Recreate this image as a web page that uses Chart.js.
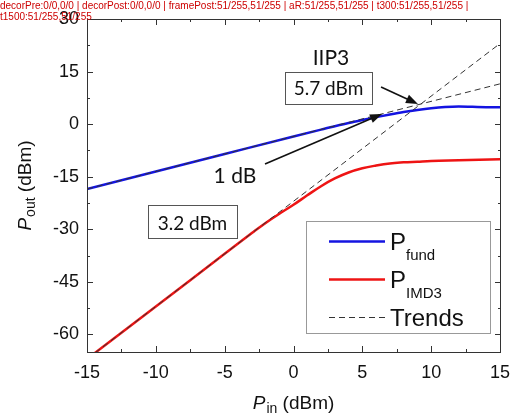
<!DOCTYPE html>
<html>
<head>
<meta charset="utf-8">
<script src="https://cdn.jsdelivr.net/npm/chart.js@4.4.1/dist/chart.umd.min.js"></script>
<style>
html, body { margin: 0; padding: 0; background: #fff; }
#log { position: absolute; left: 0; top: 0; font: 10px sans-serif; color: #c00; width: 515px; }
</style>
</head>
<body>
<canvas id="chart" width="515" height="413"></canvas>
<div id="log"></div>
<script>
/* Data */

// fundamental output power vs input power (dBm)
const pinFund = [-15, -10, -5, 0, 2, 4, 5, 6, 7, 8, 9, 10, 11, 12, 13, 14, 15];
const pFund = [-18.5, -13.5, -8.5, -3.5, -1.55, 0.35, 1.2, 2.0, 2.75, 3.45, 4.05, 4.55, 4.9, 5.05, 4.95, 4.85, 4.8];

// third order intermod product
const pinImd = [-15, -10, -5, -3, -2, -1, 0, 1, 2, 3, 4, 5, 6, 7, 8, 9, 10, 12, 15];
const pImd = [-67, -52, -37, -31, -28.1, -25.5, -23.0, -20.3, -17.7, -15.5, -13.8, -12.6, -11.8, -11.2, -10.9, -10.7, -10.5, -10.3, -10.0];

// extrapolated trend lines (slope 1 and slope 3)
const trendPin = [-15, 15];
const trendFund = [-18.5, 11.5];
const trendImd = [-67, 23];

// tick labels
const xTicks = [-15, -10, -5, 0, 5, 10, 15];
const yTicks = [-60, -45, -30, -15, 0, 15, 30];

const noteFont = '"Lato", "Open Sans", sans-serif';

const seriesColors = {
    fund: 'rgb(20, 20, 225)',
    imd: 'rgb(238, 20, 20)',
    trend: '#333'
};

const log = [];
function probe(ctx, tag) {
    const d = ctx.getImageData(87, 200, 1, 1).data;
    const e = ctx.getImageData(200, 19, 1, 1).data;
    log.push(tag + ':' + d[0] + '/' + d[3] + ',' + e[0] + '/' + e[3]);
    document.getElementById('log').textContent = log.join(' | ');
}

function toPoints(xs, ys) {
    return xs.map((x, i) => ({ x: x, y: ys[i] }));
}

function drawArrow(ctx, x1, y1, x2, y2) {
    const ang = Math.atan2(y2 - y1, x2 - x1);
    const len = 12, half = 4.5;
    ctx.beginPath();
    ctx.moveTo(x1, y1);
    ctx.lineTo(x2 - Math.cos(ang) * len * 0.8, y2 - Math.sin(ang) * len * 0.8);
    ctx.stroke();
    ctx.beginPath();
    ctx.moveTo(x2, y2);
    ctx.lineTo(x2 - Math.cos(ang) * len - Math.sin(ang) * half, y2 - Math.sin(ang) * len + Math.cos(ang) * half);
    ctx.lineTo(x2 - Math.cos(ang) * len + Math.sin(ang) * half, y2 - Math.sin(ang) * len - Math.cos(ang) * half);
    ctx.closePath();
    ctx.fill();
}

function drawSubLabel(ctx, x, y, main, sub, rest, size, italic, subSize, subDrop) {
    ctx.font = (italic ? 'italic ' : '') + size + 'px "Liberation Sans", Arial, sans-serif';
    ctx.fillText(main, x, y);
    let w = ctx.measureText(main).width + (italic ? 1 : 0);
    ctx.font = subSize + 'px "Liberation Sans", Arial, sans-serif';
    ctx.fillText(sub, x + w, y + subDrop);
    w += ctx.measureText(sub).width;
    if (rest) {
        ctx.font = size + 'px "Liberation Sans", Arial, sans-serif';
        ctx.fillText(rest, x + w, y);
        w += ctx.measureText(rest).width;
    }
    return w;
}

function measureSubLabel(ctx, main, sub, rest, size, italic, subSize) {
    ctx.font = (italic ? 'italic ' : '') + size + 'px "Liberation Sans", Arial, sans-serif';
    let w = ctx.measureText(main).width + (italic ? 1 : 0);
    ctx.font = subSize + 'px "Liberation Sans", Arial, sans-serif';
    w += ctx.measureText(sub).width;
    ctx.font = size + 'px "Liberation Sans", Arial, sans-serif';
    w += ctx.measureText(rest).width;
    return w;
}

const decorPlugin = {
    id: 'decor',
    afterDraw(chart) {
        const ctx = chart.ctx;
        const a = chart.chartArea;
        const xs = chart.scales.x, ys = chart.scales.y;
        probe(ctx, 'decorPre');
        ctx.save();
        ctx.fillStyle = '#111';
        ctx.textAlign = 'left';
        ctx.textBaseline = 'alphabetic';
        const xw = measureSubLabel(ctx, 'P', 'in', ' (dBm)', 19, true, 14);
        drawSubLabel(ctx, (a.left + a.right) / 2 - xw / 2, 409, 'P', 'in', ' (dBm)', 19, true, 14, 4);
        ctx.save();
        const yw = measureSubLabel(ctx, 'P', 'out', ' (dBm)', 19, true, 14);
        ctx.translate(31, (a.top + a.bottom) / 2);
        ctx.rotate(-Math.PI / 2);
        drawSubLabel(ctx, -yw / 2, 0, 'P', 'out', ' (dBm)', 19, true, 14, 4);
        ctx.restore();
        const lx = 306, ly = 221;
        ctx.fillStyle = '#fff';
        ctx.fillRect(lx, ly, 184, 112);
        ctx.strokeStyle = '#999';
        ctx.lineWidth = 1;
        ctx.strokeRect(lx + 0.5, ly + 0.5, 184, 112);
        const rows = [
            { color: seriesColors.fund, dash: [], main: 'P', sub: 'fund', base: 250 },
            { color: seriesColors.imd, dash: [], main: 'P', sub: 'IMD3', base: 288 },
            { color: seriesColors.trend, dash: [6, 4], main: 'Trends', sub: '', base: 326 }
        ];
        rows.forEach(r => {
            ctx.strokeStyle = r.color;
            ctx.lineWidth = r.dash.length ? 1.2 : 2.5;
            ctx.setLineDash(r.dash);
            ctx.beginPath();
            ctx.moveTo(329, r.base - 8.5);
            ctx.lineTo(385, r.base - 8.5);
            ctx.stroke();
            ctx.setLineDash([]);
            ctx.fillStyle = '#111';
            drawSubLabel(ctx, 390, r.base, r.main, r.sub, '', 24, false, 15, 10);
        });
        const X = v => xs.getPixelForValue(v);
        const Y = v => ys.getPixelForValue(v);
        ctx.fillStyle = '#111';
        ctx.strokeStyle = '#111';
        ctx.lineWidth = 1.6;
        drawArrow(ctx, X(-2.07), Y(-11.36), X(6.43), Y(2.91));
        drawArrow(ctx, X(6.36), Y(10.6), X(9.04), Y(5.76));
        ctx.textAlign = 'center';
        ctx.font = '21px ' + noteFont;
        ctx.fillText('IIP3', X(2.72), Y(16.9));
        ctx.fillText('1 dB', X(-4.25), Y(-16.8));
        ctx.lineWidth = 1;
        ctx.strokeStyle = '#555';
        ctx.strokeRect(Math.round(X(-0.62)) + 0.5, Math.round(Y(14.9)) + 0.5, Math.round(X(5.70) - X(-0.62)), Math.round(Y(5.76) - Y(14.9)));
        ctx.strokeRect(Math.round(X(-10.57)) + 0.5, Math.round(Y(-23.05)) + 0.5, Math.round(X(-4.10) - X(-10.57)), Math.round(Y(-32.47) - Y(-23.05)));
        ctx.font = '19px ' + noteFont;
        ctx.fillText('5.7 dBm', X(2.54), Y(8.33));
        ctx.fillText('3.2 dBm', X(-7.34), Y(-30.2));
        ctx.restore();
        probe(ctx, 'decorPost');
    }
};

const framePlugin = {
    id: 'frame',
    afterDraw(chart) {
        const ctx = chart.ctx;
        const a = chart.chartArea;
        const xs = chart.scales.x, ys = chart.scales.y;
        ctx.save();
        ctx.strokeStyle = '#333';
        ctx.lineWidth = 1;
        ctx.strokeRect(Math.round(a.left) + 0.5, Math.round(a.top) + 0.5, Math.round(a.right - a.left), Math.round(a.bottom - a.top));
        const L = Math.round(a.left), R = Math.round(a.right), T = Math.round(a.top), B = Math.round(a.bottom);
        ctx.fillStyle = '#333';
        xTicks.forEach((v, i) => {
            const marks = [[v, 6]];
            if (i < xTicks.length - 1) marks.push([v + 2.5, 3]);
            marks.forEach(tk => {
                const p = Math.round(xs.getPixelForValue(tk[0]));
                ctx.fillRect(p, B - tk[1], 1, tk[1]);
                ctx.fillRect(p, T, 1, tk[1]);
            });
        });
        yTicks.forEach((v, i) => {
            const marks = [[v, 6]];
            if (i < yTicks.length - 1) marks.push([v + 7.5, 3]);
            marks.forEach(tk => {
                const p = Math.round(ys.getPixelForValue(tk[0]));
                ctx.fillRect(L, p, tk[1], 1);
                ctx.fillRect(R - tk[1] + 1, p, tk[1], 1);
            });
        });
        ctx.restore();
        probe(ctx, 'framePost');
    },
    afterRender(chart) { probe(chart.ctx, 'aR'); }
};

const chart = new Chart(document.getElementById('chart'), {
    type: 'line',
    data: {
        datasets: [
            { label: 'Trend fund', data: toPoints(trendPin, trendFund), borderColor: seriesColors.trend, borderWidth: 1, borderDash: [6, 4], pointRadius: 0 },
            { label: 'Trend IMD3', data: toPoints(trendPin, trendImd), borderColor: seriesColors.trend, borderWidth: 1, borderDash: [6, 4], pointRadius: 0 },
            { label: 'Pfund', data: toPoints(pinFund, pFund), borderColor: seriesColors.fund, borderWidth: 2.5, cubicInterpolationMode: 'monotone', pointRadius: 0 },
            { label: 'PIMD3', data: toPoints(pinImd, pImd), borderColor: seriesColors.imd, borderWidth: 2.5, tension: 0.4, pointRadius: 0 }
        ]
    },
    options: {
        responsive: false,
        animation: false,
        layout: { padding: { top: 19, right: 15, left: 0, bottom: 0 } },
        plugins: { legend: { display: false }, tooltip: { enabled: false } },
        scales: {
            x: {
                type: 'linear', min: -15, max: 15,
                grid: { display: false, drawTicks: false }, border: { display: false },
                afterBuildTicks: scale => { scale.ticks = xTicks.map(v => ({ value: v })); },
                afterFit: scale => { scale.height = 61; scale.paddingRight = 0; scale.paddingLeft = 0; },
                ticks: { autoSkip: false, maxRotation: 0, padding: 10, color: '#111', font: { family: '"Liberation Sans", Arial, sans-serif', size: 18 } }
            },
            y: {
                type: 'linear', min: -65, max: 30,
                grid: { display: false, drawTicks: false }, border: { display: false },
                afterBuildTicks: scale => { scale.ticks = yTicks.map(v => ({ value: v })); },
                afterFit: scale => { scale.width = 87; },
                ticks: { autoSkip: false, padding: 8, color: '#111', font: { family: '"Liberation Sans", Arial, sans-serif', size: 18 } }
            }
        }
    },
    plugins: [decorPlugin, framePlugin]
});
setTimeout(() => probe(chart.ctx, 't300'), 300);
setTimeout(() => probe(chart.ctx, 't1500'), 1500);
</script>
</body>
</html>
